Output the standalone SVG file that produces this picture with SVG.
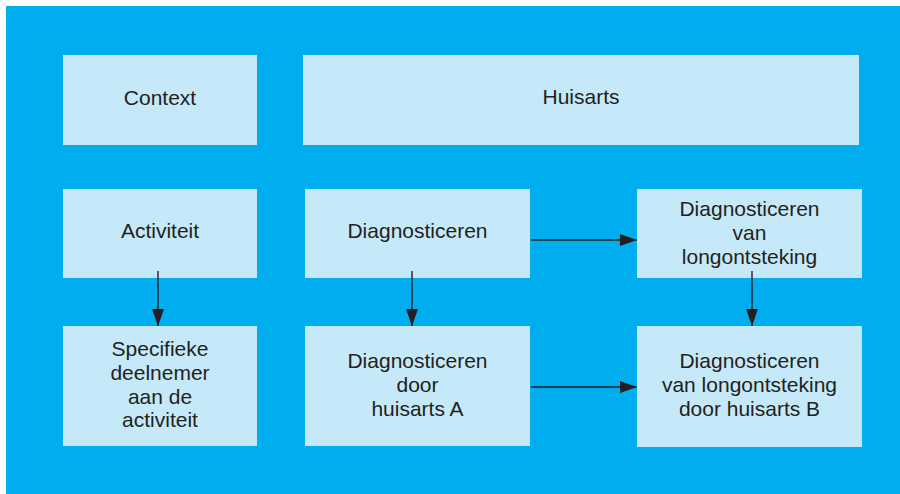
<svg xmlns="http://www.w3.org/2000/svg" width="900" height="494" viewBox="0 0 900 494">
<style>
.box{fill:#c5e9f9}
.t{font-family:"Liberation Sans",Arial,sans-serif;font-size:21px;fill:#231f20;text-anchor:middle}
.c{stroke:#231f20;stroke-width:1.4;fill:none;marker-end:url(#ah)}
</style>
<defs>
<marker id="ah" markerUnits="userSpaceOnUse" markerWidth="17" markerHeight="12" refX="17" refY="6" orient="auto">
<path d="M0,0 L17,6 L0,12 z" fill="#231f20"/>
</marker>
</defs>
<rect x="0" y="0" width="900" height="494" fill="#ffffff"/>
<rect x="6" y="6" width="894" height="488" fill="#00aeef"/>
<g id="context"><rect class="box" x="63" y="55" width="194" height="90"/><text class="t" x="160" y="105">Context</text></g>
<g id="huisarts"><rect class="box" x="303" y="55" width="556" height="90"/><text class="t" x="581" y="104">Huisarts</text></g>
<g id="activiteit"><rect class="box" x="63" y="189" width="194" height="89"/><text class="t" x="160" y="238">Activiteit</text></g>
<g id="diagnosticeren"><rect class="box" x="305" y="189" width="225" height="89"/><text class="t" x="417.5" y="238">Diagnosticeren</text></g>
<g id="diag-long"><rect class="box" x="637" y="189" width="225" height="89"/><text class="t" x="749.5" y="216">Diagnosticeren</text><text class="t" x="749.5" y="240">van</text><text class="t" x="749.5" y="264">longontsteking</text></g>
<g id="specifieke"><rect class="box" x="63" y="326" width="194" height="120"/><text class="t" x="160" y="356">Specifieke</text><text class="t" x="160" y="380">deelnemer</text><text class="t" x="160" y="403.5">aan de</text><text class="t" x="160" y="427">activiteit</text></g>
<g id="diag-a"><rect class="box" x="305" y="326" width="225" height="120"/><text class="t" x="417.5" y="368">Diagnosticeren</text><text class="t" x="417.5" y="392">door</text><text class="t" x="417.5" y="416">huisarts A</text></g>
<g id="diag-b"><rect class="box" x="637" y="326" width="225" height="121"/><text class="t" x="749.5" y="368">Diagnosticeren</text><text class="t" x="749.5" y="391.5">van longontsteking</text><text class="t" x="749.5" y="416">door huisarts B</text></g>
<g id="connectors">
<line class="c" x1="158" y1="271" x2="158" y2="326"/>
<line class="c" x1="412" y1="271" x2="412" y2="326"/>
<line class="c" x1="752" y1="271" x2="752" y2="326"/>
<line class="c" x1="531" y1="240" x2="637" y2="240"/>
<line class="c" x1="531" y1="387" x2="637" y2="387"/>
</g>
</svg>
